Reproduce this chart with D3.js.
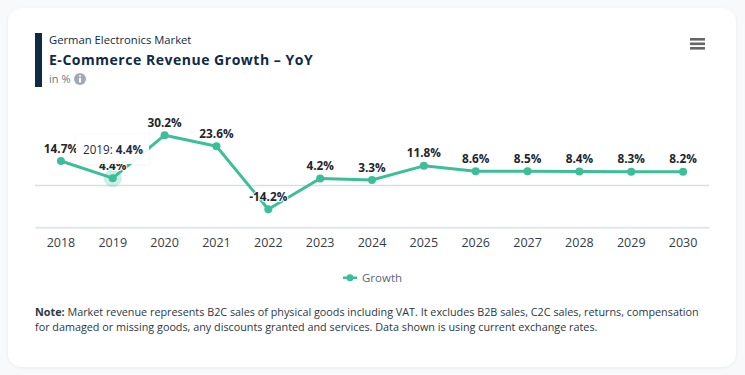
<!DOCTYPE html>
<html>
<head>
<meta charset="utf-8">
<script src="https://cdn.jsdelivr.net/npm/d3@7"></script>
<style>
  body { margin: 0; background: #f7f9fb; font-family: "Open Sans", sans-serif; overflow: hidden; }
</style>
</head>
<body>
<div id="wrapper"></div>
<script>
const years = ["2018", "2019", "2020", "2021", "2022", "2023", "2024", "2025", "2026", "2027", "2028", "2029", "2030"];
const growth = [14.7, 4.4, 30.2, 23.6, -14.2, 4.2, 3.3, 11.8, 8.6, 8.5, 8.4, 8.3, 8.2];
const noteLines = [
  "Market revenue represents B2C sales of physical goods including VAT. It excludes B2B sales, C2C sales, returns, compensation",
  "for damaged or missing goods, any discounts granted and services. Data shown is using current exchange rates.",
];
const hoverIndex = 1;

const navy = "#0f2a47";
const teal = "#3cbf98";

function drawChart() {
  const width = 745;
  const height = 375;

  const wrapper = d3
    .select("#wrapper")
    .append("svg")
    .attr("width", width)
    .attr("height", height)
    .style("display", "block");

  const defs = wrapper.append("defs");
  const shadow = defs.append("filter").attr("id", "card-shadow");
  shadow
    .append("feDropShadow")
    .attr("dx", 0)
    .attr("dy", 1)
    .attr("stdDeviation", 1.5)
    .attr("flood-color", "#000")
    .attr("flood-opacity", 0.06);

  const tipShadow = defs
    .append("filter")
    .attr("id", "tip-shadow")
    .attr("x", "-20%")
    .attr("y", "-30%")
    .attr("width", "140%")
    .attr("height", "160%");
  tipShadow
    .append("feDropShadow")
    .attr("dx", 0)
    .attr("dy", 1)
    .attr("stdDeviation", 2)
    .attr("flood-color", "#000")
    .attr("flood-opacity", 0.05);

  // card
  wrapper
    .append("rect")
    .attr("x", 8)
    .attr("y", 8)
    .attr("width", 728)
    .attr("height", 359)
    .attr("rx", 14)
    .attr("fill", "#fff")
    .attr("filter", "url(#card-shadow)");

  // header
  wrapper.append("rect").attr("x", 35).attr("y", 33).attr("width", 7).attr("height", 54).attr("fill", navy);

  wrapper
    .append("text")
    .attr("x", 49)
    .attr("y", 44)
    .attr("fill", navy)
    .style("font-size", "11.25px")
    .style("font-weight", 500)
    .text("German Electronics Market");

  wrapper
    .append("text")
    .attr("x", 49)
    .attr("y", 65)
    .attr("fill", navy)
    .style("font-size", "14px")
    .style("font-weight", 700)
    .style("letter-spacing", "0.52px")
    .text("E-Commerce Revenue Growth – YoY");

  wrapper
    .append("text")
    .attr("x", 49)
    .attr("y", 83)
    .attr("fill", "#6b7686")
    .style("font-size", "11px")
    .text("in %");

  const info = wrapper.append("g").attr("transform", "translate(80,79)");
  info.append("circle").attr("r", 6).attr("fill", "#a3a9b4");
  info.append("circle").attr("cy", -3).attr("r", 1).attr("fill", "#fff");
  info.append("rect").attr("x", -1).attr("y", -1).attr("width", 2).attr("height", 4.5).attr("fill", "#fff");

  // menu icon
  const menu = wrapper.append("g").attr("fill", "#666");
  d3.range(3).forEach((i) => {
    menu.append("rect").attr("x", 690).attr("y", 38 + i * 4.5).attr("width", 15).attr("height", 2.6);
  });

  // scales
  const xScale = d3.scaleBand().domain(years).range([35, 709]);
  const yScale = d3.scaleLinear().domain([-25, 50]).range([227.2, 102.2]);
  const xAccessor = (d, i) => xScale(years[i]) + xScale.bandwidth() / 2;

  // zero line
  wrapper
    .append("line")
    .attr("x1", 35)
    .attr("x2", 709)
    .attr("y1", yScale(0))
    .attr("y2", yScale(0))
    .attr("stroke", "#d8dee8")
    .attr("stroke-width", 1.5);

  // x axis
  const xAxis = wrapper
    .append("g")
    .attr("transform", `translate(0,${yScale(-25)})`)
    .call(d3.axisBottom(xScale).tickSize(0).tickPadding(11));
  xAxis.select(".domain").attr("stroke", "#e3e6ee").attr("stroke-width", 2);
  xAxis.selectAll("text").attr("fill", "#333d47").style("font-family", "'Open Sans'").style("font-size", "12.5px");

  // hover halo
  wrapper
    .append("circle")
    .attr("cx", xAccessor(null, hoverIndex))
    .attr("cy", yScale(growth[hoverIndex]))
    .attr("r", 9)
    .attr("fill", teal)
    .attr("opacity", 0.25);

  // line
  const lineGenerator = d3
    .line()
    .x(xAccessor)
    .y((d) => yScale(d));

  wrapper
    .append("path")
    .datum(growth)
    .attr("d", lineGenerator)
    .attr("fill", "none")
    .attr("stroke", teal)
    .attr("stroke-width", 3)
    .attr("stroke-linejoin", "round");

  wrapper
    .append("g")
    .selectAll("circle")
    .data(growth)
    .join("circle")
    .attr("cx", xAccessor)
    .attr("cy", (d) => yScale(d))
    .attr("r", 4)
    .attr("fill", teal);

  // value labels
  wrapper
    .append("g")
    .selectAll("text")
    .data(growth)
    .join("text")
    .attr("x", xAccessor)
    .attr("y", (d) => yScale(d) - 8.5)
    .attr("text-anchor", "middle")
    .attr("fill", "#22262b")
    .attr("stroke", "#fff")
    .attr("stroke-width", 2)
    .attr("paint-order", "stroke")
    .style("font-size", "11.8px")
    .style("font-weight", 700)
    .text((d) => `${d}%`);

  // tooltip for the hovered point
  wrapper
    .append("rect")
    .attr("x", 76)
    .attr("y", 135)
    .attr("width", 73)
    .attr("height", 29)
    .attr("fill", "#fff")
    .attr("fill-opacity", 0.92)
    .attr("filter", "url(#tip-shadow)");

  const tooltip = wrapper
    .append("text")
    .attr("x", 83)
    .attr("y", 154)
    .attr("fill", "#1f2d3d")
    .style("font-size", "11.7px");
  tooltip.append("tspan").text(`${years[hoverIndex]}: `);
  tooltip.append("tspan").style("font-weight", 700).text(`${growth[hoverIndex]}%`);

  // legend
  wrapper.append("rect").attr("x", 343).attr("y", 276.5).attr("width", 14).attr("height", 2.5).attr("fill", teal);
  wrapper.append("circle").attr("cx", 350).attr("cy", 277.7).attr("r", 3.5).attr("fill", teal);
  wrapper
    .append("text")
    .attr("x", 362)
    .attr("y", 282)
    .attr("fill", "#5b6675")
    .style("font-size", "11.5px")
    .text("Growth");

  // note
  const note = wrapper
    .append("g")
    .selectAll("text")
    .data(noteLines)
    .join("text")
    .attr("x", 35)
    .attr("y", (d, i) => 316 + i * 15)
    .attr("fill", "#2c3744")
    .style("font-size", "10.8px");
  note
    .filter((d, i) => i === 0)
    .append("tspan")
    .style("font-weight", 700)
    .text("Note: ");
  note.append("tspan").text((d) => d);
}

drawChart();
</script>
</body>
</html>
